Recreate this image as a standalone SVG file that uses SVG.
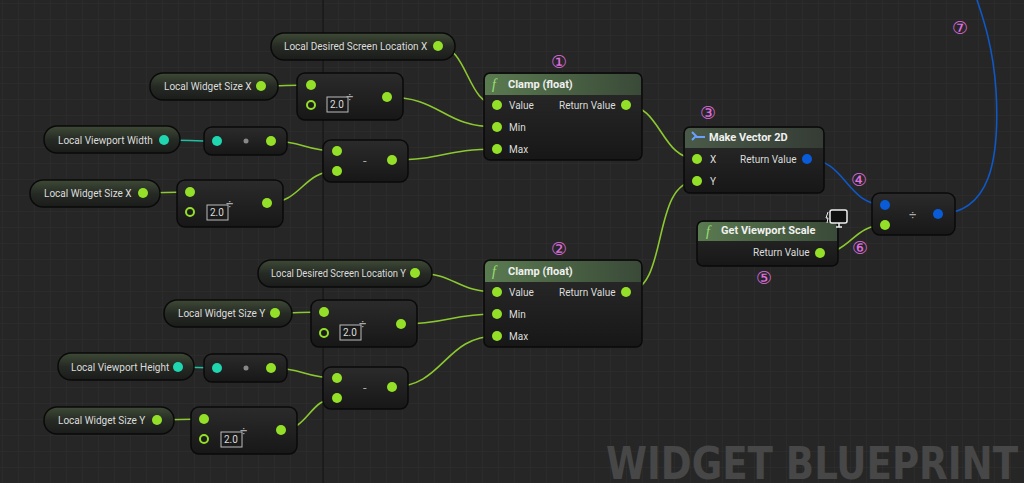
<svg xmlns="http://www.w3.org/2000/svg" width="1024" height="483" viewBox="0 0 1024 483">
<defs>
<pattern id="grid" width="16" height="16" patternUnits="userSpaceOnUse" x="3" y="4"><path d="M16 0V16M0 16H16" stroke="#303030" stroke-width="1" fill="none"/></pattern>
<linearGradient id="pill" x1="0" y1="0" x2="0" y2="1"><stop offset="0" stop-color="#3e4a36"/><stop offset="0.5" stop-color="#262a24"/><stop offset="1" stop-color="#1a1c1a"/></linearGradient>
<linearGradient id="body" x1="0" y1="0" x2="0" y2="1"><stop offset="0" stop-color="#2a2b2a"/><stop offset="1" stop-color="#161716"/></linearGradient>
<linearGradient id="hdr" x1="0" y1="0" x2="1" y2="0"><stop offset="0" stop-color="#5a7a50"/><stop offset="1" stop-color="#3a4a38"/></linearGradient>
<linearGradient id="hdr2" x1="0" y1="0" x2="1" y2="0"><stop offset="0" stop-color="#4a5a48"/><stop offset="1" stop-color="#353c35"/></linearGradient>
</defs>
<style>
text{font-family:Roboto,"Liberation Sans",sans-serif;font-size:10px;fill:#dcdcdc}
.t{font-weight:bold;font-size:11px;fill:#f0f0f0}
.n{fill:url(#body);stroke:#0a0a0a;stroke-width:1.5}
.p{fill:url(#pill);stroke:#0a0a0a;stroke-width:1.5}
.g{fill:#94e028}
.c{fill:#1fd6b0}
.b{fill:#0a5bd8}
.w{fill:none;stroke:#8cc830;stroke-width:1.6}
.wt{fill:none;stroke:#1fbfa0;stroke-width:1.6}
.wb{fill:none;stroke:#0e58c8;stroke-width:1.6}
.num{font-family:"DejaVu Sans",sans-serif;font-size:18px;fill:#e070e0}
.box{fill:#1a1a1a;stroke:#bbbbbb;stroke-width:1}
.ring{fill:none;stroke:#94e028;stroke-width:2}
.op{font-size:13px;fill:#aaa}
.fx{font-family:'Liberation Serif',serif;font-style:italic;font-size:14px;fill:#9be070}
</style>
<rect width="1024" height="483" fill="#262626"/>
<rect width="1024" height="483" fill="url(#grid)"/>
<path d="M323 0V483" stroke="#141414" stroke-width="1.2"/>
<text x="606" y="479" style="font-family:'DejaVu Sans Condensed','Liberation Sans Narrow',sans-serif;font-weight:bold;font-size:45px;fill:#474747" textLength="412" lengthAdjust="spacingAndGlyphs">WIDGET BLUEPRINT</text>

<g id="connectors">
<path class="w" d="M438 46C468 46 467 105 497 105"/>
<path class="w" d="M261 86C286 86 286 85 311 85"/>
<path class="w" d="M387 97C442 97 442 127 497 127"/>
<path class="wt" d="M164 140C190 140 190 141 217 141"/>
<path class="w" d="M271 141C304 141 304 151 337 151"/>
<path class="w" d="M143 193C166 193 166 192 190 192"/>
<path class="w" d="M267 203C302 203 302 171 337 171"/>
<path class="w" d="M392 160C444 160 444 149 497 149"/>
<path class="w" d="M626 105C661 105 661 159 697 159"/>
<path class="w" d="M626 292C670 292 650 181 697 181"/>
<path class="wb" d="M807 159C846 159 846 205 885 205"/>
<path class="w" d="M820 253C852 253 852 225 885 225"/>
<path class="wb" d="M938 214C990 214 1000 160 996 90C993 45 982 15 977 0"/>
<path class="w" d="M415 273C456 273 456 292 497 292"/>
<path class="w" d="M275 313C300 313 300 312 324 312"/>
<path class="w" d="M401 324C449 324 449 314 497 314"/>
<path class="wt" d="M178 367C198 367 198 368 217 368"/>
<path class="w" d="M271 368C304 368 304 378 337 378"/>
<path class="w" d="M157 420C180 420 180 419 204 419"/>
<path class="w" d="M281 430C309 430 309 398 337 398"/>
<path class="w" d="M392 387C444 387 444 336 497 336"/>
</g>

<g id="locDesX"><rect class="p" x="271" y="33" width="184" height="27" rx="13"/><text x="284" y="50">Local Desired Screen Location X</text><circle class="g" cx="438" cy="46" r="5"/></g>
<g id="locWX1"><rect class="p" x="150" y="73" width="128" height="27" rx="13"/><text x="164" y="90">Local Widget Size X</text><circle class="g" cx="261" cy="86" r="5"/></g>
<g id="div1"><rect class="n" x="297" y="73" width="106" height="47" rx="8"/><circle class="g" cx="311" cy="85" r="5"/><circle class="ring" cx="311" cy="105" r="4"/><rect class="box" x="327" y="97" width="21" height="15"/><text x="330" y="108">2.0</text><text class="op" x="346" y="101">÷</text><circle class="g" cx="387" cy="97" r="5"/></g>
<g id="vpW"><rect class="p" x="44" y="126" width="136" height="27" rx="13"/><text x="58" y="144">Local Viewport Width</text><circle class="c" cx="164" cy="140" r="5"/></g>
<g id="conv1"><rect class="n" x="204" y="127" width="83" height="28" rx="8"/><circle class="c" cx="217" cy="141" r="5"/><circle cx="246" cy="141" r="2.5" fill="#888"/><circle class="g" cx="271" cy="141" r="5"/></g>
<g id="sub1"><rect class="n" x="323" y="140" width="85" height="42" rx="8"/><circle class="g" cx="337" cy="151" r="5"/><circle class="g" cx="337" cy="171" r="5"/><text class="op" x="363" y="165">-</text><circle class="g" cx="392" cy="160" r="5"/></g>
<g id="locWX2"><rect class="p" x="30" y="180" width="130" height="27" rx="13"/><text x="44" y="197">Local Widget Size X</text><circle class="g" cx="143" cy="193" r="5"/></g>
<g id="div2"><rect class="n" x="177" y="180" width="106" height="47" rx="8"/><circle class="g" cx="190" cy="192" r="5"/><circle class="ring" cx="190" cy="212" r="4"/><rect class="box" x="207" y="205" width="21" height="15"/><text x="210" y="216">2.0</text><text class="op" x="226" y="208">÷</text><circle class="g" cx="267" cy="203" r="5"/></g>
<g id="clamp1"><rect class="n" x="484" y="73" width="158" height="87" rx="6"/><path d="M490 74H636a5 5 0 0 1 5 5V95H485V79a5 5 0 0 1 5-5z" fill="url(#hdr)"/><text class="fx" x="492" y="89">f</text><text class="t" x="508" y="88">Clamp (float)</text><circle class="g" cx="497" cy="105" r="5"/><text x="509" y="109">Value</text><circle class="g" cx="497" cy="127" r="5"/><text x="509" y="131">Min</text><circle class="g" cx="497" cy="149" r="5"/><text x="509" y="153">Max</text><text x="559" y="109">Return Value</text><circle class="g" cx="626" cy="105" r="5"/></g>
<g id="mk2d"><rect class="n" x="684" y="127" width="140" height="66" rx="6"/><path d="M690 128H818a5 5 0 0 1 5 5V148H685V133a5 5 0 0 1 5-5z" fill="url(#hdr2)"/><path d="M692 132l4 4-4 4M696 137h9" stroke="#6aa0ff" stroke-width="2" fill="none"/><text class="t" x="709" y="141">Make Vector 2D</text><circle class="g" cx="697" cy="159" r="5"/><text x="710" y="163">X</text><circle class="g" cx="697" cy="181" r="5"/><text x="710" y="185">Y</text><text x="740" y="163">Return Value</text><circle class="b" cx="807" cy="159" r="5"/></g>
<g id="gvs"><rect class="n" x="697" y="221" width="141" height="45" rx="6"/><path d="M703 222H832a5 5 0 0 1 5 5V241H698V227a5 5 0 0 1 5-5z" fill="url(#hdr)"/><text class="fx" x="706" y="236">f</text><text class="t" x="721" y="234">Get Viewport Scale</text><text x="753" y="256">Return Value</text><circle class="g" cx="820" cy="253" r="5"/><rect x="830" y="210" width="17" height="13" rx="2" fill="#111" stroke="#eee" stroke-width="1.5"/><path d="M836 227h6M839 223v4" stroke="#eee" stroke-width="1.5"/><path d="M828 212l-2 6 2 0-1 5" stroke="#eee" stroke-width="1" fill="none"/></g>
<g id="divV"><rect class="n" x="872" y="193" width="83" height="42" rx="8"/><circle class="b" cx="885" cy="205" r="5"/><circle class="g" cx="885" cy="225" r="5"/><text class="op" x="909" y="219">÷</text><circle class="b" cx="938" cy="214" r="5"/></g>

<g id="locDesY"><rect class="p" x="258" y="260" width="174" height="27" rx="13"/><text x="271" y="277" textLength="135" lengthAdjust="spacingAndGlyphs">Local Desired Screen Location Y</text><circle class="g" cx="415" cy="273" r="5"/></g>
<g id="clamp2"><rect class="n" x="484" y="260" width="158" height="87" rx="6"/><path d="M490 261H636a5 5 0 0 1 5 5V282H485V266a5 5 0 0 1 5-5z" fill="url(#hdr)"/><text class="fx" x="492" y="276">f</text><text class="t" x="508" y="275">Clamp (float)</text><circle class="g" cx="497" cy="292" r="5"/><text x="509" y="296">Value</text><circle class="g" cx="497" cy="314" r="5"/><text x="509" y="318">Min</text><circle class="g" cx="497" cy="336" r="5"/><text x="509" y="340">Max</text><text x="559" y="296">Return Value</text><circle class="g" cx="626" cy="292" r="5"/></g>
<g id="locWY1"><rect class="p" x="164" y="300" width="128" height="27" rx="13"/><text x="178" y="317">Local Widget Size Y</text><circle class="g" cx="275" cy="313" r="5"/></g>
<g id="div3"><rect class="n" x="311" y="300" width="106" height="47" rx="8"/><circle class="g" cx="324" cy="312" r="5"/><circle class="ring" cx="324" cy="333" r="4"/><rect class="box" x="340" y="325" width="21" height="15"/><text x="343" y="336">2.0</text><text class="op" x="359" y="328">÷</text><circle class="g" cx="401" cy="324" r="5"/></g>
<g id="vpH"><rect class="p" x="58" y="353" width="136" height="27" rx="13"/><text x="71" y="371">Local Viewport Height</text><circle class="c" cx="178" cy="367" r="5"/></g>
<g id="conv2"><rect class="n" x="204" y="354" width="83" height="28" rx="8"/><circle class="c" cx="217" cy="368" r="5"/><circle cx="246" cy="368" r="2.5" fill="#888"/><circle class="g" cx="271" cy="368" r="5"/></g>
<g id="sub2"><rect class="n" x="323" y="367" width="85" height="42" rx="8"/><circle class="g" cx="337" cy="378" r="5"/><circle class="g" cx="337" cy="398" r="5"/><text class="op" x="363" y="392">-</text><circle class="g" cx="392" cy="387" r="5"/></g>
<g id="locWY2"><rect class="p" x="44" y="407" width="130" height="27" rx="13"/><text x="58" y="424">Local Widget Size Y</text><circle class="g" cx="157" cy="420" r="5"/></g>
<g id="div4"><rect class="n" x="191" y="407" width="106" height="47" rx="8"/><circle class="g" cx="204" cy="419" r="5"/><circle class="ring" cx="204" cy="439" r="4"/><rect class="box" x="221" y="432" width="21" height="15"/><text x="224" y="443">2.0</text><text class="op" x="240" y="435">÷</text><circle class="g" cx="281" cy="430" r="5"/></g>

<g id="labels">
<text class="num" x="551" y="68">①</text><text class="num" x="551" y="255">②</text><text class="num" x="700" y="119">③</text><text class="num" x="851" y="186">④</text><text class="num" x="756" y="284">⑤</text><text class="num" x="852" y="254">⑥</text><text class="num" x="952" y="34">⑦</text>
</g>
</svg>
